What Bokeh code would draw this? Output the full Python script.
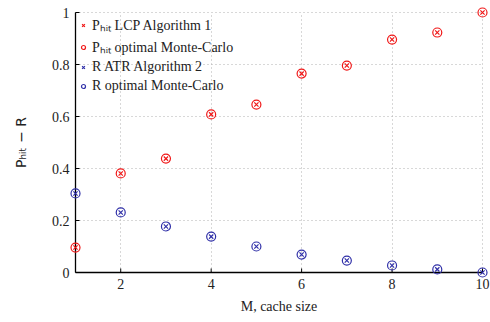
import math
from bokeh.plotting import figure
from bokeh.models import Range1d, Legend, LegendItem, FixedTicker
from bokeh.embed import file_html
from bokeh.resources import INLINE

cache_size = [1, 2, 3, 4, 5, 6, 7, 8, 9, 10]
p_hit_lcp = [0.096, 0.381, 0.438, 0.608, 0.646, 0.765, 0.796, 0.896, 0.923, 1.0]
p_hit_mc = [0.096, 0.381, 0.438, 0.608, 0.646, 0.765, 0.796, 0.896, 0.923, 1.0]
r_atr = [0.304, 0.231, 0.177, 0.138, 0.100, 0.069, 0.046, 0.027, 0.012, 0.0]
r_mc = [0.304, 0.231, 0.177, 0.138, 0.100, 0.069, 0.046, 0.027, 0.012, 0.0]
x_ticks = [2, 4, 6, 8, 10]
y_ticks = [0, 0.2, 0.4, 0.6, 0.8, 1]
x_lo, x_hi = 1, 10
y_lo, y_hi = 0, 1

RED = "#f01818"
BLUE = "#3030a8"
SERIF = "Liberation Serif"
TXT = "#222222"

# small padding so edge markers are not clipped by the frame
px_pad = 6
fw, fh = 407, 260
xpad = (x_hi - x_lo) * px_pad / fw
ypad = (y_hi - y_lo) * px_pad / fh

p = figure(width=490, height=322, output_backend="svg", toolbar_location=None,
           x_range=Range1d(x_lo - xpad, x_hi + xpad), y_range=Range1d(y_lo - ypad, y_hi + ypad),
           min_border_left=75 - px_pad, min_border_right=8 - px_pad,
           min_border_top=12 - px_pad, min_border_bottom=50 - px_pad)
p.outline_line_color = None
p.background_fill_color = "white"

p.grid.grid_line_color = "#b0b0b0"
p.grid.grid_line_dash = "1 3"
p.grid.grid_line_width = 1
p.xgrid.cross_bounds = (y_lo, y_hi)
p.ygrid.cross_bounds = (x_lo, x_hi)
p.xgrid.ticker = FixedTicker(ticks=x_ticks)
p.ygrid.ticker = FixedTicker(ticks=y_ticks)

# axis lines and inward ticks drawn at the data origin
p.segment(x0=[x_lo, x_lo], y0=[y_lo, y_lo], x1=[x_hi, x_lo], y1=[y_lo, y_hi],
          line_color="black", line_width=1.3)
p.ray(x=x_ticks, y=[y_lo] * len(x_ticks), length=4, length_units="screen",
      angle=math.pi / 2, line_color="black", line_width=1)
p.ray(x=[x_lo] * len(y_ticks), y=y_ticks, length=4, length_units="screen",
      angle=0, line_color="black", line_width=1)

r1 = p.scatter(cache_size, p_hit_lcp, marker="x", size=6, line_color=RED, line_width=1.2)
r2 = p.scatter(cache_size, p_hit_mc, marker="circle", size=9, line_color=RED, fill_color=None, line_width=1.2)
r3 = p.scatter(cache_size, r_atr, marker="x", size=6, line_color=BLUE, line_width=1.2)
r4 = p.scatter(cache_size, r_mc, marker="circle", size=9, line_color=BLUE, fill_color=None, line_width=1.2)

p.xaxis.ticker = FixedTicker(ticks=x_ticks)
p.yaxis.ticker = FixedTicker(ticks=y_ticks)
p.yaxis.major_label_overrides = {0: "0", 1: "1"}
for ax in (p.xaxis[0], p.yaxis[0]):
    ax.axis_line_color = None
    ax.major_tick_line_color = None
    ax.minor_tick_line_color = None
    ax.major_tick_in = 0
    ax.major_tick_out = 0
    ax.major_label_text_font = SERIF
    ax.major_label_text_font_size = "14px"
    ax.major_label_text_color = TXT
    ax.axis_label_text_font_size = "14px"
    ax.axis_label_text_font_style = "normal"
    ax.axis_label_text_color = TXT

p.xaxis.axis_label = "M, cache size"
p.xaxis.axis_label_text_font = SERIF
p.xaxis.major_label_standoff = 0
p.xaxis.axis_label_standoff = 7
p.yaxis.axis_label = "Pₕᵢₜ − R"
p.yaxis.axis_label_text_font = "DejaVu Sans"
p.yaxis.major_label_standoff = 0
p.yaxis.axis_label_standoff = 20

legend = Legend(items=[
    LegendItem(label="Pₕᵢₜ LCP Algorithm 1", renderers=[r1]),
    LegendItem(label="Pₕᵢₜ optimal Monte-Carlo", renderers=[r2]),
    LegendItem(label="R ATR Algorithm 2", renderers=[r3]),
    LegendItem(label="R optimal Monte-Carlo", renderers=[r4]),
], location="top_left")
legend.border_line_color = None
legend.background_fill_alpha = 0.0
legend.label_text_font = SERIF
legend.label_text_font_size = "14px"
legend.label_text_color = TXT
legend.glyph_width = 10
legend.glyph_height = 12
legend.label_standoff = 4
legend.spacing = 3
legend.padding = 2
legend.margin = 9
legend.label_height = 16
p.add_layout(legend)

open("out.html", "w").write(file_html(p, INLINE))
